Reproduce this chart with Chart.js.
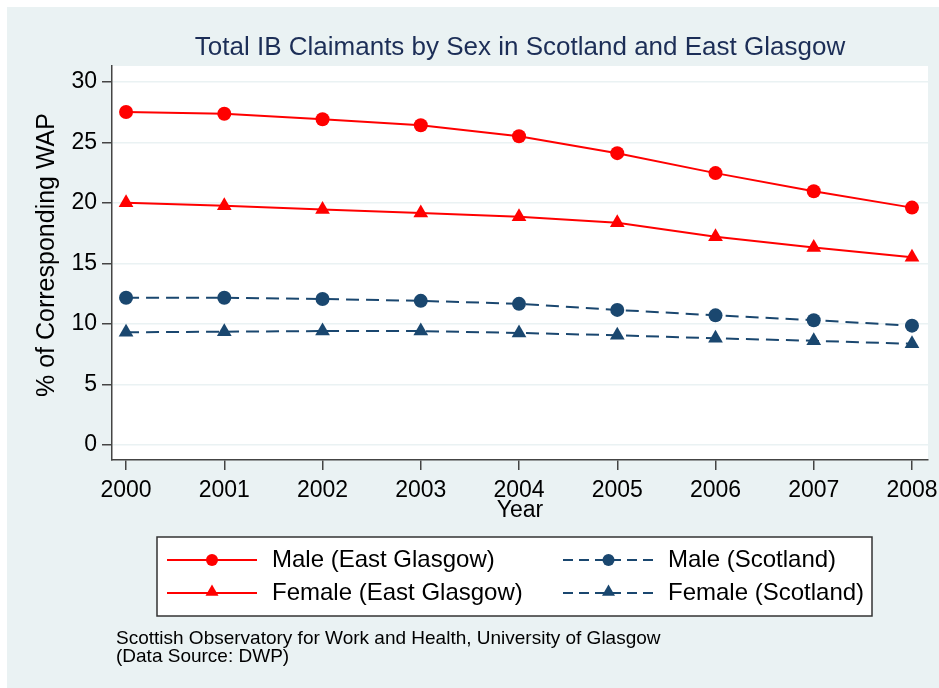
<!DOCTYPE html>
<html>
<head>
<meta charset="utf-8">
<script src="https://cdn.jsdelivr.net/npm/chart.js@4.4.1/dist/chart.umd.min.js"></script>
<style>
  html, body { margin: 0; padding: 0; background: #fff; }
  canvas { display: block; }
</style>
</head>
<body>
<canvas id="chart" width="939" height="688"></canvas>
<script>
// Data
const years = [2000, 2001, 2002, 2003, 2004, 2005, 2006, 2007, 2008];
const maleEast = [27.5, 27.35, 26.9, 26.4, 25.5, 24.1, 22.45, 20.95, 19.6];
const femaleEast = [20.0, 19.75, 19.45, 19.15, 18.85, 18.35, 17.2, 16.3, 15.5];
const maleScot = [12.15, 12.15, 12.05, 11.9, 11.65, 11.15, 10.7, 10.3, 9.85];
const femaleScot = [9.3, 9.35, 9.4, 9.4, 9.25, 9.05, 8.8, 8.6, 8.35];
const yTicks = [0, 5, 10, 15, 20, 25, 30];

const titleText = 'Total IB Claimants by Sex in Scotland and East Glasgow';
const yTitle = '% of Corresponding WAP';
const xTitle = 'Year';
const legendLabels = ['Male (East Glasgow)', 'Male (Scotland)', 'Female (East Glasgow)', 'Female (Scotland)'];
const noteLines = ['Scottish Observatory for Work and Health, University of Glasgow', '(Data Source: DWP)'];

const RED = '#ff0000';
const NAVY = '#1a476f';
const BG = '#eaf2f3';
const FONT = "'Liberation Sans', Arial, sans-serif";

function toXY(vals) {
    return vals.map((v, i) => ({ x: years[i], y: v }));
}

function series(label, vals, color, style, dashed) {
    return {
        label: label,
        data: toXY(vals),
        borderColor: color,
        backgroundColor: color,
        borderWidth: 2,
        borderDash: dashed ? [13, 7] : [],
        pointStyle: style,
        pointRadius: style === 'triangle' ? 8.5 : 7,
        pointBorderWidth: 0,
        pointBackgroundColor: color,
        tension: 0
    };
}

// Marker helper for the hand-drawn legend
function marker(ctx, style, x, y, r, color) {
    ctx.fillStyle = color;
    ctx.beginPath();
    if (style === 'circle') {
        ctx.arc(x, y, r, 0, Math.PI * 2);
    } else {
        ctx.moveTo(x, y - r);
        ctx.lineTo(x + r * 0.866, y + r * 0.5);
        ctx.lineTo(x - r * 0.866, y + r * 0.5);
        ctx.closePath();
    }
    ctx.fill();
}

const decor = {
    id: 'decor',
    beforeDraw(chart) {
        const ctx = chart.ctx;
        const a = chart.chartArea;
        ctx.save();
        ctx.fillStyle = '#fff';
        ctx.fillRect(0, 0, chart.width, chart.height);
        ctx.fillStyle = BG;
        ctx.fillRect(7, 7, chart.width - 7, chart.height - 7);
        ctx.fillStyle = '#fff';
        ctx.fillRect(a.left, a.top, a.right - a.left, a.bottom - a.top);
        ctx.restore();
    },
    afterDraw(chart) {
        const ctx = chart.ctx;
        const a = chart.chartArea;
        const cx = (a.left + a.right) / 2;
        ctx.save();

        // title
        ctx.fillStyle = '#1c2e57';
        ctx.font = '26px ' + FONT;
        ctx.textAlign = 'center';
        ctx.textBaseline = 'alphabetic';
        ctx.fillText(titleText, cx, 55);

        // axis titles
        ctx.textBaseline = 'middle';
        ctx.fillStyle = '#000';
        ctx.font = '23px ' + FONT;
        ctx.fillText(xTitle, cx, 511);
        ctx.save();
        ctx.font = '25px ' + FONT;
        ctx.translate(47, 255);
        ctx.rotate(-Math.PI / 2);
        ctx.fillText(yTitle, 0, 0);
        ctx.restore();

        // legend box
        ctx.fillStyle = '#fff';
        ctx.fillRect(157, 537, 715, 79);
        ctx.strokeStyle = '#333';
        ctx.lineWidth = 1.5;
        ctx.strokeRect(157, 537, 715, 79);

        const rows = [560, 593];
        const cols = [{ x0: 167, x1: 257, tx: 272 }, { x0: 563, x1: 654, tx: 668 }];
        const items = [
            { col: 0, row: 0, color: RED, style: 'circle', dashed: false },
            { col: 1, row: 0, color: NAVY, style: 'circle', dashed: true },
            { col: 0, row: 1, color: RED, style: 'triangle', dashed: false },
            { col: 1, row: 1, color: NAVY, style: 'triangle', dashed: true }
        ];
        items.forEach((it, i) => {
            const c = cols[it.col];
            const y = rows[it.row];
            ctx.strokeStyle = it.color;
            ctx.lineWidth = 2;
            ctx.setLineDash(it.dashed ? [10, 6] : []);
            ctx.beginPath();
            ctx.moveTo(c.x0, y);
            ctx.lineTo(c.x1, y);
            ctx.stroke();
            ctx.setLineDash([]);
            const mx = (c.x0 + c.x1) / 2;
            if (it.style === 'triangle') {
                marker(ctx, 'triangle', mx, y - 1, 7.5, it.color);
            } else {
                marker(ctx, 'circle', mx, y, 6, it.color);
            }
            ctx.fillStyle = '#000';
            ctx.font = '24px ' + FONT;
            ctx.textAlign = 'left';
            ctx.fillText(legendLabels[i], c.tx, y);
        });

        // note
        ctx.fillStyle = '#000';
        ctx.font = '19px ' + FONT;
        ctx.textAlign = 'left';
        ctx.textBaseline = 'alphabetic';
        ctx.fillText(noteLines[0], 116, 644);
        ctx.fillText(noteLines[1], 116, 662);
        ctx.restore();
    }
};

new Chart(document.getElementById('chart'), {
    type: 'line',
    data: {
        datasets: [
            series(legendLabels[0], maleEast, RED, 'circle', false),
            series(legendLabels[2], femaleEast, RED, 'triangle', false),
            series(legendLabels[1], maleScot, NAVY, 'circle', true),
            series(legendLabels[3], femaleScot, NAVY, 'triangle', true)
        ]
    },
    options: {
        responsive: false,
        animation: false,
        layout: { padding: { left: 42, right: 11, top: 66, bottom: 168 } },
        plugins: {
            legend: { display: false },
            title: { display: false },
            tooltip: { enabled: false }
        },
        scales: {
            x: {
                type: 'linear',
                min: 1999.857,
                max: 2008.163,
                afterBuildTicks: s => { s.ticks = years.map(v => ({ value: v })); },
                afterFit: s => {
                    s.height = 60;
                    s.paddingLeft = 0;
                    s.paddingRight = 0;
                },
                ticks: {
                    color: '#000',
                    font: { size: 23, family: FONT },
                    padding: 7,
                    maxRotation: 0,
                    autoSkip: false,
                    callback: v => String(v)
                },
                grid: { drawOnChartArea: false, tickLength: 10, tickColor: '#444', lineWidth: 1.5 },
                border: { color: '#444', width: 1.5 }
            },
            y: {
                type: 'linear',
                min: -1.25,
                max: 31.3,
                afterBuildTicks: s => { s.ticks = yTicks.map(v => ({ value: v })); },
                afterFit: s => {
                    s.width = 70;
                    s.paddingTop = 0;
                    s.paddingBottom = 0;
                },
                ticks: {
                    color: '#000',
                    font: { size: 23, family: FONT },
                    padding: 5,
                    autoSkip: false,
                    callback: v => String(v)
                },
                grid: { color: BG, lineWidth: 1.5, tickLength: 10, tickColor: '#444' },
                border: { color: '#444', width: 1.5 }
            }
        }
    },
    plugins: [decor]
});
</script>
</body>
</html>
